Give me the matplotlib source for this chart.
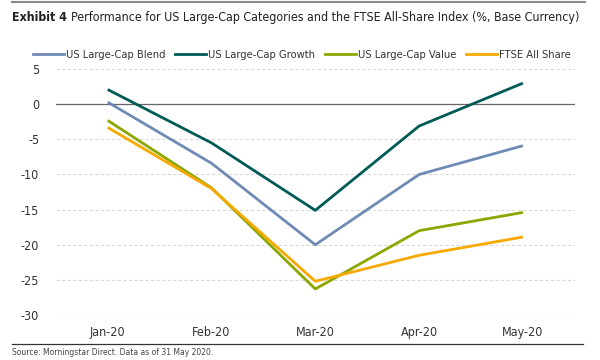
import matplotlib
matplotlib.use('Agg')
import matplotlib.pyplot as plt
from matplotlib.lines import Line2D

plt.rcParams['font.family'] = ['DejaVu Sans']
plt.rcParams['font.stretch'] = 'condensed'
plt.rcParams['axes.unicode_minus'] = False

months = ['Jan-20', 'Feb-20', 'Mar-20', 'Apr-20', 'May-20']
blend = [0.3, -8.4, -20.0, -10.0, -5.9]
growth = [2.1, -5.5, -15.1, -3.1, 3.0]
value = [-2.3, -11.9, -26.3, -18.0, -15.4]
ftse = [-3.3, -12.0, -25.2, -21.5, -18.9]

series = [
    ('US Large-Cap Blend', blend, '#6f8ab5'),
    ('US Large-Cap Growth', growth, '#005a55'),
    ('US Large-Cap Value', value, '#8da600'),
    ('FTSE All Share', ftse, '#f7a900'),
]

fig = plt.figure(figsize=(6, 3.6), dpi=100)
ax = fig.add_axes([0.093, 0.125, 0.865, 0.683])

x = range(len(months))
for name, vals, col in series:
    ax.plot(x, vals, color=col, linewidth=2.0, label=name, solid_capstyle='butt')

ax.set_xlim(-0.5, 4.5)
ax.set_ylim(-30, 5)
ax.set_yticks(range(-30, 6, 5))
ax.set_xticks(list(x))
ax.set_xticklabels(months)
for y in range(-30, 6, 5):
    if y != 0:
        ax.axhline(y, color='#d9d9d9', linewidth=0.8, linestyle=(0, (3, 2)), zorder=0)
ax.axhline(0, color='#666666', linewidth=0.9, zorder=1)
for s in ax.spines.values():
    s.set_visible(False)
ax.tick_params(length=0, labelsize=9, colors='#333333')
ax.tick_params(axis='x', pad=8)
ax.tick_params(axis='y', pad=12)

handles = [Line2D([0], [0], color=c, linewidth=2.0) for _, _, c in series]
fig.legend(handles, [n for n, _, _ in series], loc='center', bbox_to_anchor=(0.503, 0.847),
           ncol=4, frameon=False, fontsize=8, handlelength=2.8, handletextpad=0.15,
           columnspacing=0.9, labelcolor='#333333', borderpad=0)

t1 = fig.text(0.02, 0.952, 'Exhibit 4', fontsize=8.9, fontweight='bold', va='center', color='#222222')
ax.annotate('Performance for US Large-Cap Categories and the FTSE All-Share Index (%, Base Currency)',
            xy=(1, 0.5), xycoords=t1, xytext=(3, 0), textcoords='offset points',
            fontsize=8.9, va='center', ha='left', color='#222222', annotation_clip=False)
fig.add_artist(Line2D([0.02, 0.975], [0.995, 0.995], color='#888888', linewidth=1.5))
fig.add_artist(Line2D([0.02, 0.972], [0.044, 0.044], color='#333333', linewidth=0.9))
fig.text(0.02, 0.022, 'Source: Morningstar Direct. Data as of 31 May 2020.', fontsize=6.1,
         va='center', color='#444444')

fig.savefig('out.png', dpi=100)
